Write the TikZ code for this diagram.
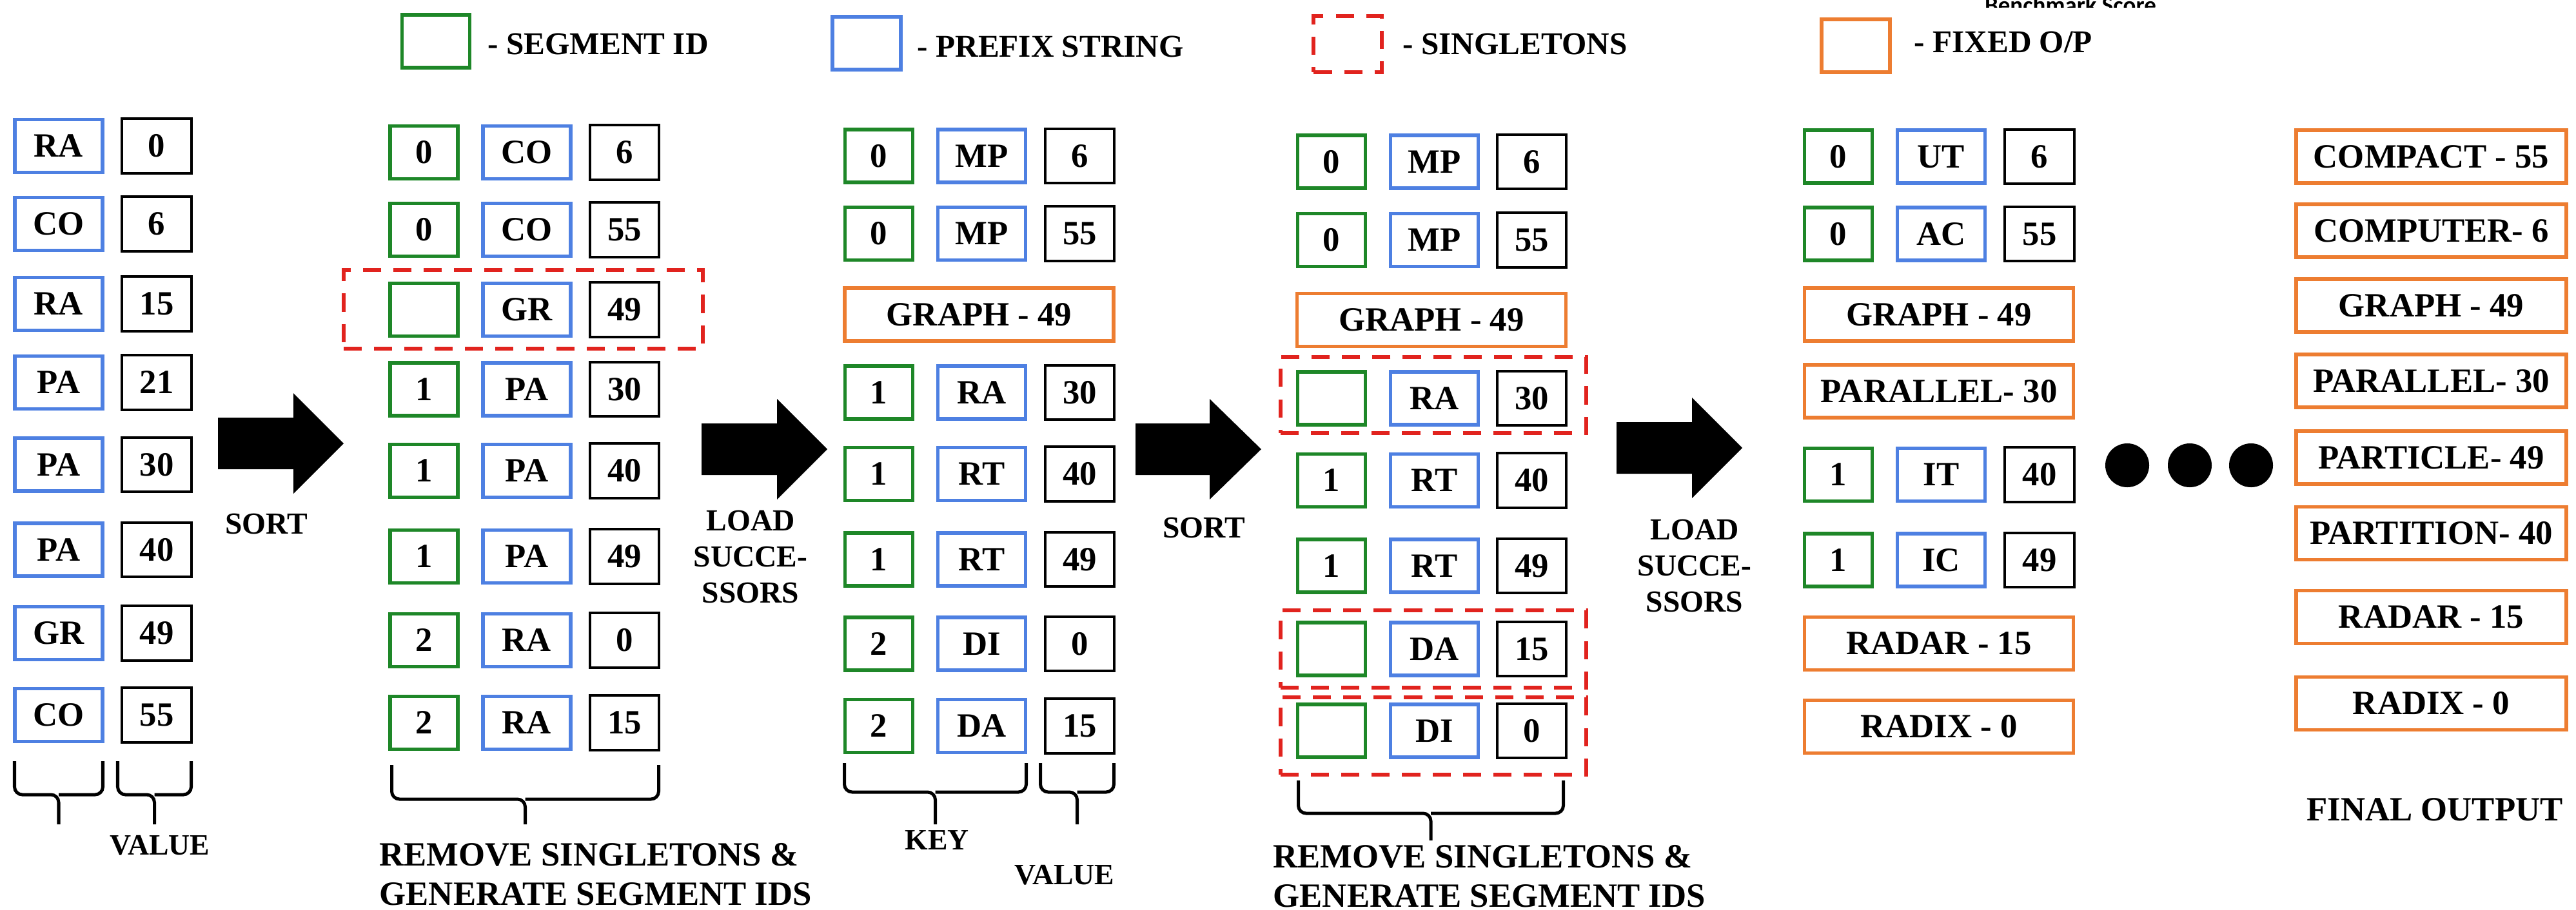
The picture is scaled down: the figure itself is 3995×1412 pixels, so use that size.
\documentclass[tikz,border=0pt]{standalone}
\usepackage{fontspec}
\setmainfont{Liberation Serif}
\newfontfamily\benchfont{Carlito}
\definecolor{segG}{RGB}{30,135,40}
\definecolor{preB}{RGB}{78,128,226}
\definecolor{fixO}{RGB}{237,125,49}
\definecolor{sglR}{RGB}{225,35,30}
\newcommand\cellfont{\fontsize{15}{18}\selectfont\bfseries}
\newcommand\legfont{\fontsize{14}{16}\selectfont\bfseries}
\newcommand\arrfont{\fontsize{13.5}{15.9}\selectfont\bfseries}
\newcommand\botfont{\fontsize{15}{17.4}\selectfont\bfseries}
\newcommand\keyfont{\fontsize{13}{15}\selectfont\bfseries}
\newcommand\blockarr[4]{%
  \fill ({#1},{#4-40}) -- ({#2},{#4-40}) -- ({#2},{#4-78}) -- ({#3},{#4}) -- ({#2},{#4+78}) -- ({#2},{#4+40}) -- ({#1},{#4+40}) -- cycle;}
\newcommand\hbrace[5]{%
  \draw[bracestyle] ({#1},{#3}) -- ({#1},{#4}) -- ({(#1+#2)/2},{#4}) -- ({(#1+#2)/2},{#5});
  \draw[bracestyle] ({#2},{#3}) -- ({#2},{#4}) -- ({(#1+#2)/2},{#4});}
\tikzset{
  cell/.style={draw, line width=0.055cm, minimum height=0.82cm, inner sep=0pt, font=\cellfont},
  gbox/.style={cell, draw=segG, minimum width=1.05cm},
  bbox/.style={cell, draw=preB, minimum width=1.36cm},
  vbox/.style={cell, draw=black, line width=0.04cm, minimum width=1.07cm, minimum height=0.84cm},
  obox/.style={cell, draw=fixO, minimum width=4.17cm},
  sbox/.style={draw=sglR, line width=0.06cm, dash pattern=on 0.28cm off 0.19cm, inner sep=0pt},
  bracestyle/.style={line width=0.05cm, rounded corners=0.12cm},
  leg/.style={font=\legfont, anchor=west, inner sep=0pt},
  arrlbl/.style={font=\arrfont, align=center, inner sep=0pt},
  botlbl/.style={font=\botfont, align=left, anchor=west, inner sep=0pt},
}
\begin{document}
\begin{tikzpicture}[x=0.01cm,y=-0.01cm]
\useasboundingbox (0,0) rectangle (3995,1412);
\fill[white] (0,0) rectangle (3995,1412);

% stray cut-off title
\begin{scope}
  \clip (3000,0) rectangle (3450,11);
  \node[font=\benchfont\bfseries\fontsize{10.5}{12}\selectfont, anchor=base, inner sep=0pt] (bench) at (3211,21) {Benchmark Score};
\end{scope}

% legend
\node[gbox] (lg) at (676,64) {};
\node[leg] (lgt) at (756,68) {- SEGMENT ID};
\node[bbox, minimum width=1.06cm] (lb) at (1344,67) {};
\node[leg] (lbt) at (1422,72) {- PREFIX STRING};
\node[sbox, minimum width=1.05cm, minimum height=0.87cm] (ls) at (2090,68.5) {};
\node[leg] (lst) at (2175,68) {- SINGLETONS};
\node[obox, minimum width=1.06cm] (lo) at (2878,71) {};
\node[leg] (lot) at (2968,65) {- FIXED O/P};

% column 1
\foreach \y/\b/\v [count=\i] in {226.5/RA/0, 347.5/CO/6, 471.5/RA/15, 593.5/PA/21, 721/PA/30, 853/PA/40, 982.5/GR/49, 1109.5/CO/55} {
  \node[bbox] (a\i) at (91,\y) {\b};
  \node[vbox] (av\i) at (243,\y) {\v};
}
\hbrace{22.5}{159.5}{1181}{1233}{1279}
\hbrace{182.5}{296.5}{1181}{1233}{1279}
\node[font=\keyfont, inner sep=0pt] (val1) at (248,1312) {VALUE};

% arrow 1
\blockarr{338}{455}{533}{688}
\node[arrlbl] (sort1) at (413,813) {SORT};

% column 2
\node[sbox, minimum width=5.56cm, minimum height=1.21cm] (s2) at (811.5,480) {};
\foreach \y/\g/\b/\v [count=\i] in {236.5/0/CO/6, 356.5/0/CO/55, 480.5/{}/GR/49, 604/1/PA/30, 730.5/1/PA/40, 863.5/1/PA/49, 993.5/2/RA/0, 1121.5/2/RA/15} {
  \node[gbox] (b\i) at (657.5,\y) {\g};
  \node[bbox] (bb\i) at (817,\y) {\b};
  \node[vbox] (bv\i) at (968.5,\y) {\v};
}
\hbrace{607.5}{1021.5}{1187}{1240}{1279}
\node[botlbl] (rem1) at (588,1356.5) {REMOVE SINGLETONS \&\\GENERATE SEGMENT IDS};

% arrow 2
\blockarr{1088}{1205}{1283}{697}
\node[arrlbl] (load1) at (1164,864) {LOAD\\SUCCE-\\SSORS};

% column 3
\foreach \y/\g/\b/\v [count=\i] in {242/0/MP/6, 362.5/0/MP/55, 609/1/RA/30, 735.5/1/RT/40, 868/1/RT/49, 999/2/DI/0, 1126.5/2/DA/15} {
  \node[gbox] (c\i) at (1363,\y) {\g};
  \node[bbox] (cb\i) at (1522.5,\y) {\b};
  \node[vbox] (cv\i) at (1674.5,\y) {\v};
}
\node[obox] (co1) at (1518.5,488) {GRAPH - 49};
\hbrace{1309.5}{1591.5}{1184}{1229}{1279}
\hbrace{1613.5}{1727.5}{1184}{1229}{1279}
\node[font=\keyfont, inner sep=0pt] (key) at (1453,1304) {KEY};
\node[font=\keyfont, inner sep=0pt] (val2) at (1651,1358) {VALUE};

% arrow 3
\blockarr{1761}{1876}{1956}{697}
\node[arrlbl] (sort2) at (1867,819) {SORT};

% column 4
\node[sbox, minimum width=4.73cm, minimum height=1.17cm] (s4a) at (2223,613) {};
\node[sbox, minimum width=4.73cm, minimum height=1.19cm] (s4b) at (2223,1007) {};
\node[sbox, minimum width=4.73cm, minimum height=1.19cm] (s4c) at (2223,1142) {};
\foreach \y/\g/\b/\v [count=\i] in {251/0/MP/6, 372.5/0/MP/55, 618/{}/RA/30, 745.5/1/RT/40, 878/1/RT/49, 1007/{}/DA/15, 1134/{}/DI/0} {
  \node[gbox] (d\i) at (2065,\y) {\g};
  \node[bbox] (db\i) at (2224.5,\y) {\b};
  \node[vbox] (dv\i) at (2375.5,\y) {\v};
}
\node[obox] (do1) at (2220,496.5) {GRAPH - 49};
\hbrace{2013.5}{2424.5}{1211}{1262}{1304}
\node[botlbl] (rem2) at (1974,1359.5) {REMOVE SINGLETONS \&\\GENERATE SEGMENT IDS};

% arrow 4
\blockarr{2507}{2624}{2702}{695}
\node[arrlbl] (load2) at (2628,878) {LOAD\\SUCCE-\\SSORS};

% column 5
\foreach \y/\g/\b/\v [count=\i] in {243/0/UT/6, 363/0/AC/55, 736.5/1/IT/40, 869/1/IC/49} {
  \node[gbox] (e\i) at (2851,\y) {\g};
  \node[bbox] (eb\i) at (3010.5,\y) {\b};
  \node[vbox] (ev\i) at (3163,\y) {\v};
}
\foreach \y/\t [count=\i] in {488/GRAPH - 49, 607/PARALLEL- 30, 998.5/RADAR - 15, 1127.5/RADIX - 0} {
  \node[obox] (eo\i) at (3007,\y) {\t};
}

% dots
\foreach \x [count=\i] in {3299,3396,3491} {
  \node[circle, fill=black, minimum size=0.68cm, inner sep=0pt] (dot\i) at (\x,722) {};
}

% column 6: final output
\foreach \y/\t [count=\i] in {243/COMPACT - 55, 358/COMPUTER- 6, 474/GRAPH - 49, 591/PARALLEL- 30, 710/PARTICLE- 49, 827.5/PARTITION- 40, 957.5/RADAR - 15, 1091.5/RADIX - 0} {
  \node[obox, minimum width=4.19cm] (f\i) at (3770.5,\y) {\t};
}
\node[font=\botfont, inner sep=0pt] (final) at (3776,1256) {FINAL OUTPUT};
\end{tikzpicture}
\end{document}
